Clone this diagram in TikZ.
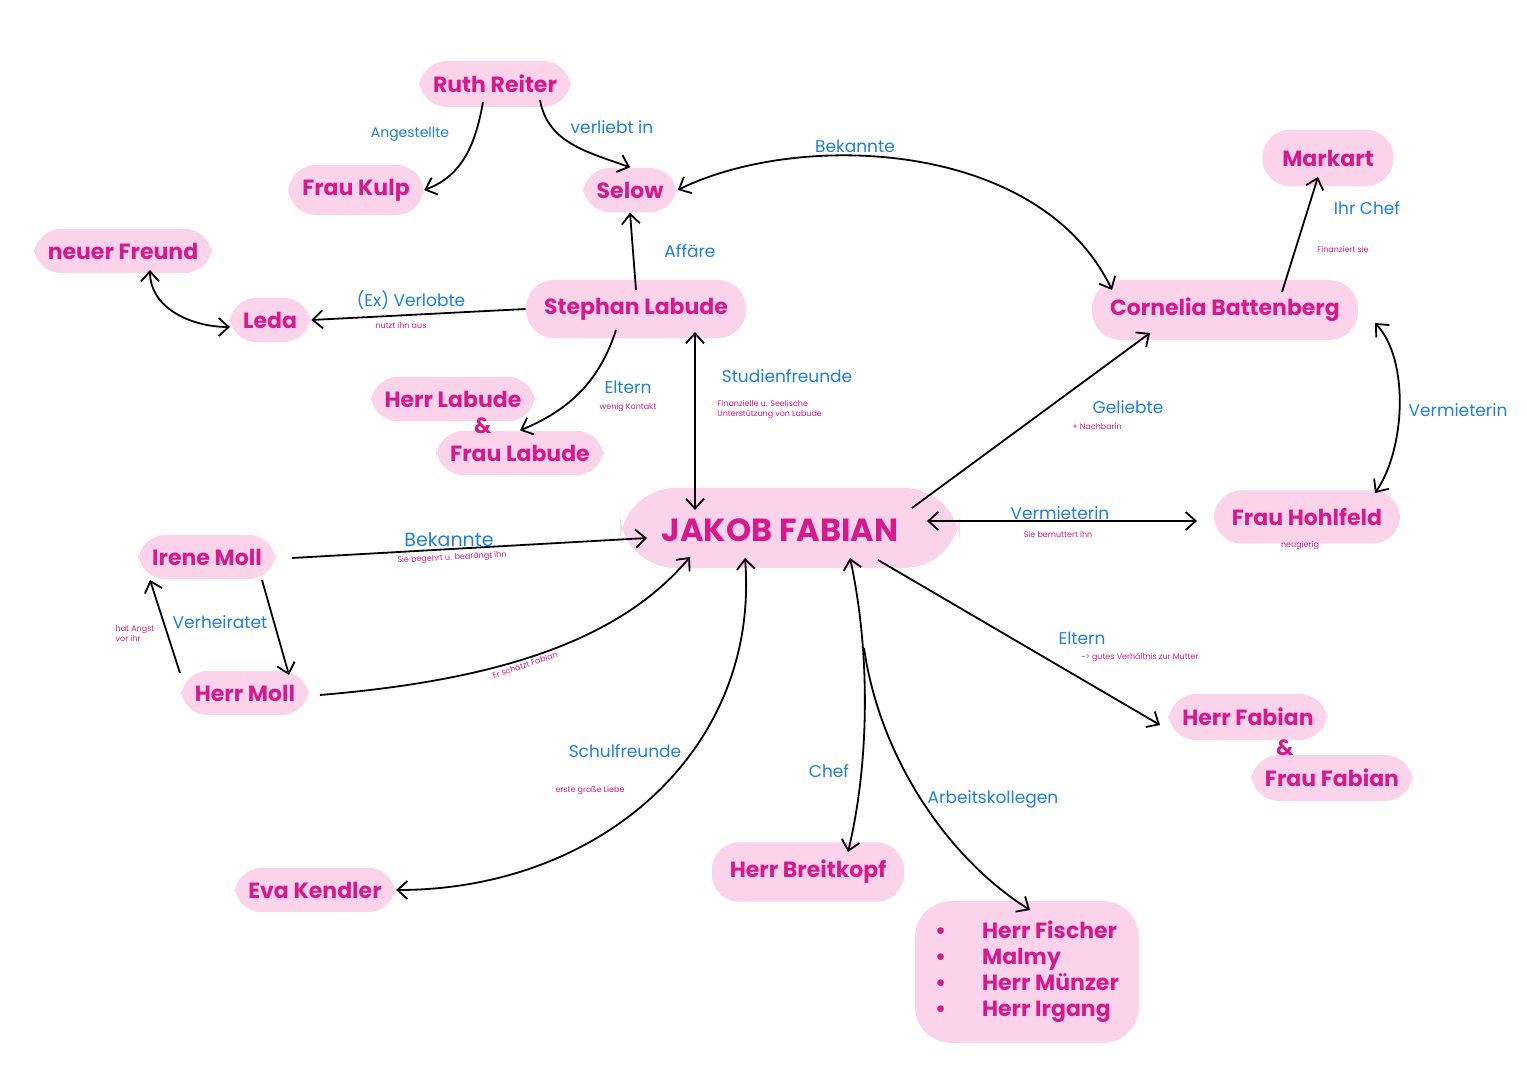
\documentclass[tikz,border=0pt]{standalone}
\usepackage{fontspec}
\setmainfont{Poppins}
\usetikzlibrary{arrows.meta}
\definecolor{mag}{HTML}{D41A8C}
\definecolor{blob}{HTML}{FBD3EA}
\definecolor{blu}{HTML}{1F80DD}
\begin{document}
\begin{tikzpicture}[x=0.5pt,y=-0.5pt,
 n/.style={fill=blob,rounded corners=14pt,text=mag,font=\fontsize{11}{13}\selectfont\bfseries,inner sep=7pt},
 t/.style={text=mag,font=\fontsize{11}{13}\selectfont\bfseries,inner sep=1pt},
 lb/.style={text=blu,font=\fontsize{8.5}{10}\selectfont,inner sep=1pt},
 sm/.style={text=mag,font=\fontsize{4}{5}\selectfont,inner sep=0pt,align=left},
 e/.style={draw=black,line width=0.9pt,-{Straight Barb[length=5pt,width=9pt]}},
 b/.style={draw=black,line width=0.9pt,{Straight Barb[length=5pt,width=9pt]}-{Straight Barb[length=5pt,width=9pt]}}]
\useasboundingbox (0,0) rectangle (1527,1080);
\node[n] (ruth) at (495,84) {Ruth Reiter};
\node[n] (kulp) at (356,190) {Frau Kulp};
\node[n] (selow) at (630,190) {Selow};
\node[n] (freund) at (123,251) {neuer Freund};
\node[n] (leda) at (270,320) {Leda};
\node[n,inner sep=9pt] (labude) at (636,309) {Stephan Labude};
\node[n,minimum width=170pt,minimum height=40pt,rounded corners=28pt] at (790,528) {};
\node[n,fill=none,font=\fontsize{16}{18}\selectfont\bfseries] (fabian) at (780,530) {JAKOB FABIAN};
\node[n,inner sep=9pt] (cornelia) at (1225,310) {Cornelia Battenberg};
\node[n,inner sep=10pt] (markart) at (1328,158) {Markart};
\node[n,inner sep=9pt] (hohl) at (1307,517) {Frau Hohlfeld};
\node[n] (irene) at (207,557) {Irene Moll};
\node[n] (hmoll) at (245,693) {Herr Moll};
\node[n] (eva) at (315,890) {Eva Kendler};
\node[n,inner sep=9pt] (breit) at (808,872) {Herr Breitkopf};
\node[n] (hl) at (453,399) {Herr Labude};
\node[n] (fl) at (520,453) {Frau Labude};
\node[t] at (483,426) {\&};
\node[n] (hf) at (1248,717) {Herr Fabian};
\node[n] (ff) at (1332,778) {Frau Fabian};
\node[t] at (1285,748) {\&};
\node[n,align=left,inner sep=10pt,rounded corners=18pt] (koll) at (1027,972) {%
\textbullet\hspace{18pt}Herr Fischer\\ \textbullet\hspace{18pt}Malmy\\ \textbullet\hspace{18pt}Herr Münzer\\ \textbullet\hspace{18pt}Herr Irgang};
\draw[e] (483,102) to[out=260,in=20] (kulp.east);
\node[lb,font=\fontsize{7}{8}\selectfont] at (410,134) {Angestellte};
\draw[e] (540,100) to[out=280,in=160] (selow.north);
\node[lb] at (612,127) {verliebt in};
\draw[b] (1112,290) .. controls (1040,140) and (800,130) .. (selow.east);
\node[lb] at (855,146) {Bekannte};
\draw[e] (636,290) -- (selow.south);
\node[lb] at (690,251) {Affäre};
\draw[e] (labude.west) -- (leda.east);
\node[lb] at (411,300) {(Ex) Verlobte};
\node[sm] at (401,325) {nutzt ihn aus};
\draw[b] (230,327) to[out=180,in=270] (150,270);
\draw[e] (616,330) .. controls (600,380) and (570,410) .. (fl.north);
\node[lb] at (628,387) {Eltern};
\node[sm] at (628,408) {wenig Kontakt};
\draw[b] (695,332) -- (695,510);
\node[lb] at (787,376) {Studienfreunde};
\node[sm] at (717,410) [anchor=west] {Finanzielle u. Seelische\\Unterstützung von Labude};
\draw[e] (912,508) -- (1150,333);
\node[lb] at (1128,407) {Geliebte};
\node[sm] at (1097,426) {+ Nachbarin};
\draw[e] (1282,292) -- (1318,177);
\node[lb] at (1367,208) {Ihr Chef};
\node[sm] at (1343,249) {Finanziert sie};
\draw[b] (1375,323) .. controls (1410,360) and (1405,450) .. (1375,493);
\node[lb] at (1458,410) {Vermieterin};
\draw[b] (927,521) -- (1197,521);
\node[lb] at (1060,513) {Vermieterin};
\node[sm] at (1058,534) {Sie bemuttert ihn};
\node[sm] at (1300,546) {neugierig};
\draw[e] (292,558) -- (647,538);
\node[lb,font=\fontsize{9.5}{11}\selectfont] at (449,540) {Bekannte};
\node[sm,rotate=3] at (452,558) {Sie begehrt u. bedrängt ihn};
\draw[e] (262,580) -- (289,675);
\draw[e] (180,673) -- (150,580);
\node[lb] at (220,622) {Verheiratet};
\node[sm] at (135,634) {hat Angst\\vor ihr};
\draw[e] (320,695) .. controls (500,680) and (620,640) .. (690,557);
\node[sm,rotate=18] at (525,665) {Er schätzt Fabian};
\draw[b] (745,558) .. controls (760,750) and (600,890) .. (eva.east);
\node[lb] at (625,751) {Schulfreunde};
\node[sm] at (590,790) {erste große Liebe};
\draw[b] (850,558) .. controls (870,650) and (870,760) .. (848,852);
\node[lb] at (829,771) {Chef};
\draw[e] (864,648) .. controls (880,760) and (950,860) .. (1030,910);
\node[lb] at (993,799) {Arbeitskollegen};
\draw[e] (878,560) -- (1160,725);
\node[lb] at (1082,638) {Eltern};
\node[sm] at (1140,658) {\textasciitilde> gutes Verhältnis zur Mutter};
\end{tikzpicture}
\end{document}
